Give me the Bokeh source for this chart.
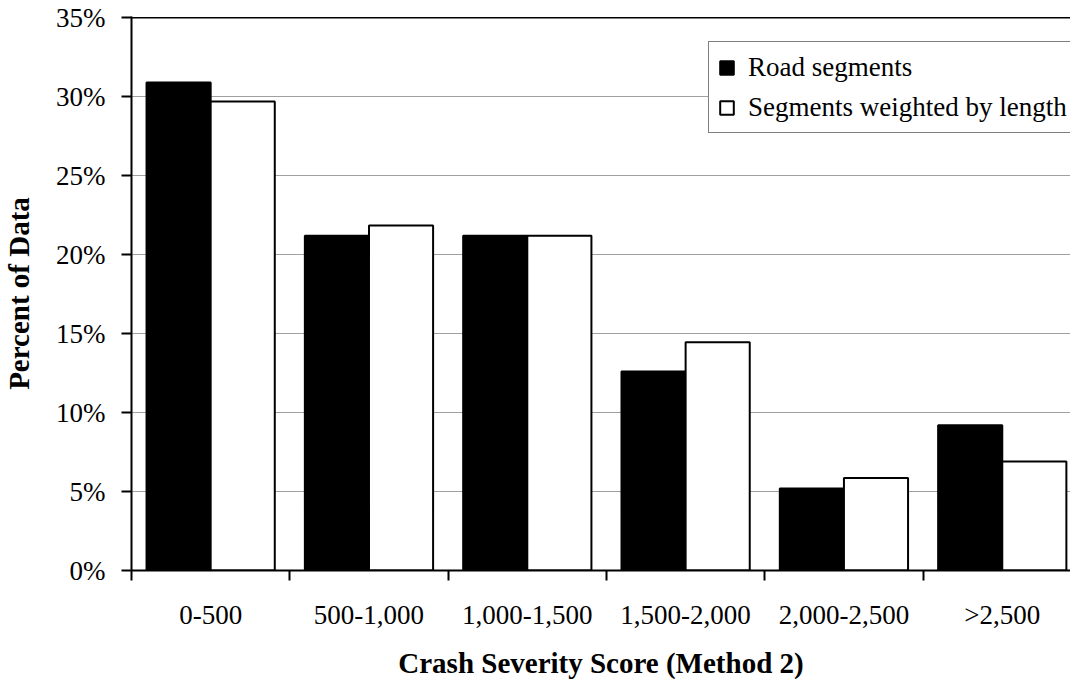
import numpy as np
from bokeh.plotting import figure
from bokeh.models import (Range1d, FixedTicker, Span, Legend, LegendItem,
                          ColumnDataSource)
from bokeh.embed import file_html
from bokeh.resources import INLINE

categories = ["0-500", "500-1,000", "1,000-1,500", "1,500-2,000", "2,000-2,500", ">2,500"]
road_segments = [30.9, 21.2, 21.2, 12.6, 5.2, 9.2]
weighted_by_length = [29.7, 21.85, 21.2, 14.45, 5.85, 6.9]
y_ticks = [0, 5, 10, 15, 20, 25, 30, 35]
y_tick_labels = ["0%", "5%", "10%", "15%", "20%", "25%", "30%", "35%"]

SERIF = "Liberation Serif"
n = len(categories)
centers = np.arange(n) + 0.5
bw = 0.405

src = ColumnDataSource(dict(
    x1=centers - bw / 2, x2=centers + bw / 2,
    a=road_segments, b=weighted_by_length))

p = figure(width=1070, height=686, output_backend="svg", toolbar_location=None,
           x_range=Range1d(0, 946 / 159.5), y_range=Range1d(0, 35.08),
           min_border_left=123, min_border_right=0, min_border_top=16,
           min_border_bottom=116)
p.outline_line_color = None
p.background_fill_color = "white"
p.border_fill_color = "white"

r1 = p.vbar(x="x1", top="a", width=bw, source=src, fill_color="black",
            line_color="black", line_width=2)
r2 = p.vbar(x="x2", top="b", width=bw, source=src, fill_color="white",
            line_color="black", line_width=2)

p.add_layout(Span(location=35, dimension="width", line_color="black", line_width=1.5))

# grid
p.xgrid.visible = False
p.ygrid.ticker = FixedTicker(ticks=[5, 10, 15, 20, 25, 30])
p.ygrid.grid_line_color = "#404040"
p.ygrid.grid_line_width = 1
p.ygrid.grid_line_dash = "1 1"
p.ygrid.level = "underlay"

# y axis
ya = p.yaxis[0]
ya.ticker = FixedTicker(ticks=y_ticks)
ya.major_label_overrides = {t: l for t, l in zip(y_ticks, y_tick_labels)}
ya.major_tick_out = 10
ya.major_tick_in = 0
ya.major_tick_line_width = 2
ya.minor_tick_line_color = None
ya.axis_line_width = 2
ya.major_label_text_font = SERIF
ya.major_label_text_font_size = "27px"
ya.major_label_text_color = "black"
ya.major_label_standoff = 16
ya.axis_label = "Percent of Data"
ya.axis_label_text_font = SERIF
ya.axis_label_text_font_style = "bold"
ya.axis_label_text_font_size = "29px"
ya.axis_label_text_color = "black"
ya.axis_label_standoff = 18

# x axis
xa = p.xaxis[0]
xa.ticker = FixedTicker(ticks=list(centers), minor_ticks=list(range(n + 1)))
xa.major_label_overrides = {float(c): lab for c, lab in zip(centers, categories)}
xa.major_tick_out = 0
xa.major_tick_in = 0
xa.minor_tick_out = 10
xa.minor_tick_in = 0
xa.minor_tick_line_width = 2
xa.minor_tick_line_color = "black"
xa.axis_line_width = 2
xa.major_label_text_font = SERIF
xa.major_label_text_font_size = "27px"
xa.major_label_text_color = "black"
xa.major_label_standoff = 19
xa.axis_label = "Crash Severity Score (Method 2)"
xa.axis_label_text_font = SERIF
xa.axis_label_text_font_style = "bold"
xa.axis_label_text_font_size = "29px"
xa.axis_label_text_color = "black"
xa.axis_label_standoff = 14

legend = Legend(items=[LegendItem(label="Road segments", renderers=[r1]),
                       LegendItem(label="Segments weighted by length", renderers=[r2])],
                location=(577, 437))
legend.label_text_font = SERIF
legend.label_text_font_size = "27px"
legend.label_text_color = "black"
legend.glyph_width = 17
legend.glyph_height = 17
legend.label_standoff = 13
legend.label_height = 32
legend.spacing = 8
legend.padding = 9
legend.margin = 0
legend.border_line_color = "black"
legend.border_line_width = 1.5
legend.background_fill_alpha = 1
p.add_layout(legend)

open("out.html", "w").write(file_html(p, INLINE))
